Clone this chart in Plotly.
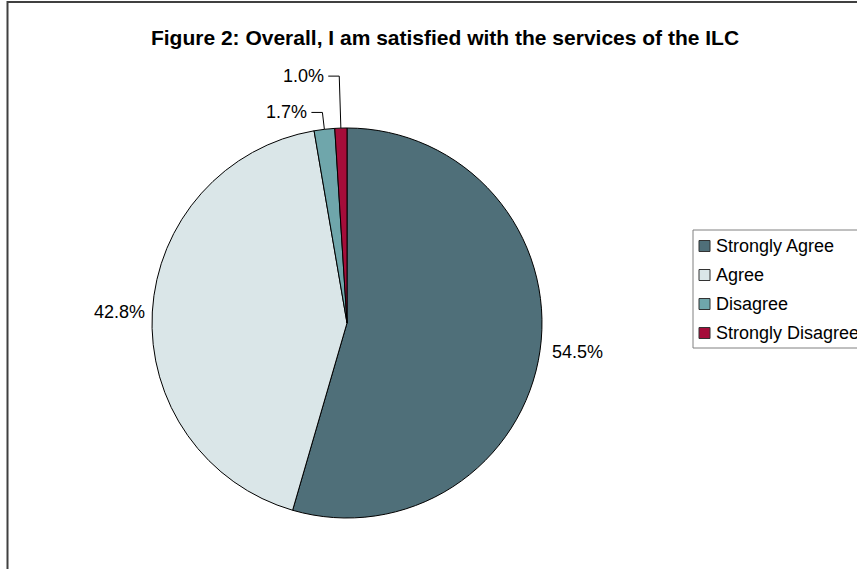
import math
import plotly.graph_objects as go

# ---- data ----
categories = ["Strongly Agree", "Agree", "Disagree", "Strongly Disagree"]
values = [54.5, 42.8, 1.7, 1.0]
title_text = "Figure 2: Overall, I am satisfied with the services of the ILC"

# ---- styles ----
colors = ["#4F6F79", "#DAE6E8", "#6FA6AB", "#A50D3A"]
label_gap = [10, 5, 17, 52]        # radial offset of label anchor from rim (px)
use_leader = [False, False, True, True]
FONT = "Arial, Liberation Sans, Helvetica, sans-serif"

W, H = 857, 569
CX, CY, R = 347, 323, 195

# legend box geometry (px)
LEG_X, LEG_TOP, LEG_BOTTOM = 693, 230, 348
LEG_ROW0, LEG_STEP, SQ = 246, 29, 11


def px(x):
    return x / W


def py(y):
    return 1 - y / H


fig = go.Figure(
    go.Pie(
        labels=categories,
        values=values,
        sort=False,
        direction="clockwise",
        rotation=0,
        marker=dict(colors=colors, line=dict(color="black", width=1)),
        textinfo="none",
        hoverinfo="label+percent",
        domain=dict(x=[px(CX - R), px(CX + R)], y=[py(CY + R), py(CY - R)]),
        showlegend=False,
    )
)

annotations = []
shapes = []
total = sum(values)
cum = 0.0
for v, gap, lead in zip(values, label_gap, use_leader):
    mid = (cum + v / 2) / total
    cum += v
    th = 2 * math.pi * mid
    sx, sy = math.sin(th), -math.cos(th)
    ex, ey = CX + R * sx, CY + R * sy
    ax_, ay_ = CX + (R + gap) * sx, CY + (R + gap) * sy
    txt = f"{100 * v / total:.1f}%"
    if lead:
        hx = ax_ - 11
        shapes.append(dict(type="line", xref="paper", yref="paper",
                           x0=px(ex), y0=py(ey), x1=px(ax_), y1=py(ay_),
                           line=dict(color="black", width=1)))
        shapes.append(dict(type="line", xref="paper", yref="paper",
                           x0=px(ax_), y0=py(ay_), x1=px(hx), y1=py(ay_),
                           line=dict(color="black", width=1)))
        annotations.append(dict(x=px(hx - 2), y=py(ay_), xref="paper", yref="paper",
                                text=txt, showarrow=False, xanchor="right",
                                yanchor="middle", font=dict(size=18, color="black", family=FONT)))
    else:
        annotations.append(dict(x=px(ax_), y=py(ay_), xref="paper", yref="paper",
                                text=txt, showarrow=False,
                                xanchor="left" if sx > 0 else "right",
                                yanchor="middle", font=dict(size=18, color="black", family=FONT)))

# legend (box runs off the right edge as in the reference)
shapes.append(dict(type="rect", xref="paper", yref="paper",
                   x0=px(LEG_X), x1=1.1, y0=py(LEG_BOTTOM), y1=py(LEG_TOP),
                   line=dict(color="#808080", width=1), fillcolor="white", layer="below"))
for i, (cat, col) in enumerate(zip(categories, colors)):
    yc = LEG_ROW0 + i * LEG_STEP
    shapes.append(dict(type="rect", xref="paper", yref="paper",
                       x0=px(LEG_X + 6), x1=px(LEG_X + 6 + SQ),
                       y0=py(yc + SQ / 2), y1=py(yc - SQ / 2),
                       line=dict(color="#333333", width=1), fillcolor=col))
    annotations.append(dict(x=px(LEG_X + 21), y=py(yc), xref="paper", yref="paper",
                            text=cat, showarrow=False, xanchor="left", yanchor="middle",
                            font=dict(size=18, color="black", family=FONT)))

# chart-area border (left/top visible, rest cropped)
shapes.append(dict(type="rect", xref="paper", yref="paper",
                   x0=px(7.5), x1=1.2, y0=-0.2, y1=py(2),
                   line=dict(color="#404040", width=2), fillcolor="rgba(0,0,0,0)"))

fig.update_layout(
    width=W, height=H,
    margin=dict(l=0, r=0, t=0, b=0),
    paper_bgcolor="white",
    plot_bgcolor="white",
    font=dict(family=FONT, color="black"),
    title=dict(text=f"<b>{title_text}</b>", x=px(445), y=py(38),
               xanchor="center", yanchor="middle", xref="paper", yref="paper",
               font=dict(size=21, family=FONT, color="black")),
    showlegend=False,
    annotations=annotations,
    shapes=shapes,
)

fig.write_html("out.html")
